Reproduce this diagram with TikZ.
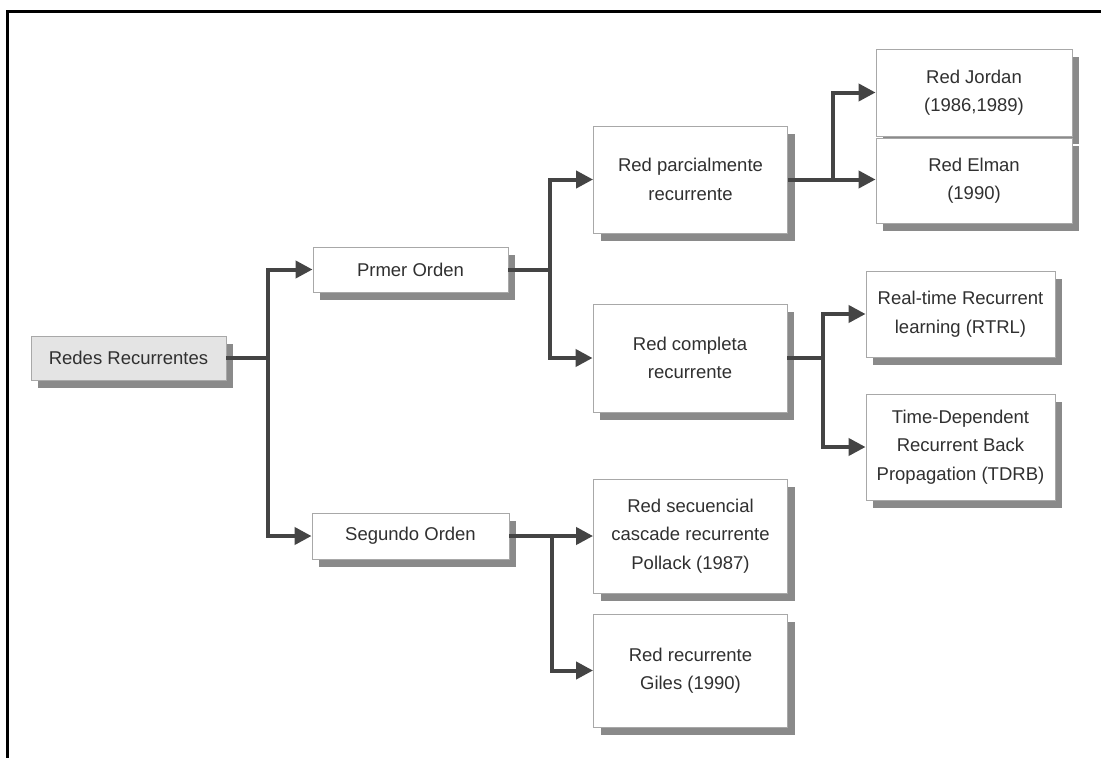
\documentclass[tikz,border=0pt]{standalone}
\usepackage{fontspec}
\setmainfont{Liberation Sans}
\usetikzlibrary{arrows.meta,shadows,calc}
\definecolor{txt}{HTML}{303030}
\definecolor{boxline}{HTML}{A8A8A8}
\definecolor{shade}{HTML}{8A8A8A}
\definecolor{conncol}{HTML}{444444}
\definecolor{rootfill}{HTML}{E4E4E4}
\begin{document}
\begin{tikzpicture}[x=1pt,y=-1pt,
  box/.style={draw=boxline, line width=0.9pt, fill=white, align=center, inner sep=0pt,
    text=txt, font=\fontsize{18.5}{28.5}\selectfont,
    drop shadow={shadow xshift=7pt, shadow yshift=-8pt, fill=shade, opacity=1}},
  conn/.style={draw=conncol, line width=4pt},
  arr/.style={conn, -{Triangle[length=17pt,width=17pt]}}]
\useasboundingbox (0,0) rectangle (1101,758);
\fill[white] (0,0) rectangle (1101,758);
\draw[line width=3pt] (1101,11) -- (7,11) -- (7,758);

\node[box, fill=rootfill, minimum width=195pt, minimum height=44pt] (redes) at (128.5,358) {Redes Recurrentes};
\node[box, minimum width=195pt, minimum height=45pt] (prmer) at (410.5,269.5) {Prmer Orden};
\node[box, minimum width=197pt, minimum height=46pt] (segundo) at (410.5,536) {Segundo Orden};
\node[box, minimum width=194pt, minimum height=107pt] (parc) at (690.5,179.5) {Red parcialmente\\recurrente};
\node[box, minimum width=194pt, minimum height=108pt] (completa) at (690,358) {Red completa\\recurrente};
\node[box, minimum width=194pt, minimum height=114pt] (secuencial) at (690.5,536) {Red secuencial\\cascade recurrente\\Pollack (1987)};
\node[box, minimum width=194pt, minimum height=113pt] (giles) at (690.5,670.5) {Red recurrente\\Giles (1990)};
\node[box, minimum width=196pt, minimum height=87pt] (jordan) at (974,92.5) {Red Jordan\\(1986,1989)};
\node[box, minimum width=196pt, minimum height=85pt] (elman) at (974,180.5) {Red Elman\\(1990)};
\node[box, minimum width=189pt, minimum height=86pt] (rtrl) at (960.5,314) {Real-time Recurrent\\learning (RTRL)};
\node[box, minimum width=189pt, minimum height=106pt] (tdrb) at (960.5,447) {Time-Dependent\\Recurrent Back\\Propagation (TDRB)};

\coordinate (j1) at (268,358);
\coordinate (j2) at (550,269.5);
\coordinate (j3) at (552,536);
\coordinate (j4) at (833,179.5);
\coordinate (j5) at (823,358);

\draw[conn] (redes.east) -- (j1);
\draw[arr] (j1) |- (prmer.west);
\draw[arr] (j1) |- (segundo.west);

\draw[conn] (prmer.east) -- (j2);
\draw[arr] (j2) |- (parc.west);
\draw[arr] (j2) |- (completa.west);

\draw[arr] (segundo.east) -- (secuencial.west);
\draw[arr] (j3) |- (giles.west);

\draw[arr] (parc.east) -- (parc.east -| elman.west);
\draw[arr] (j4) |- (jordan.west);

\draw[conn] (completa.east) -- (j5);
\draw[arr] (j5) |- (rtrl.west);
\draw[arr] (j5) |- (tdrb.west);
\end{tikzpicture}
\end{document}
